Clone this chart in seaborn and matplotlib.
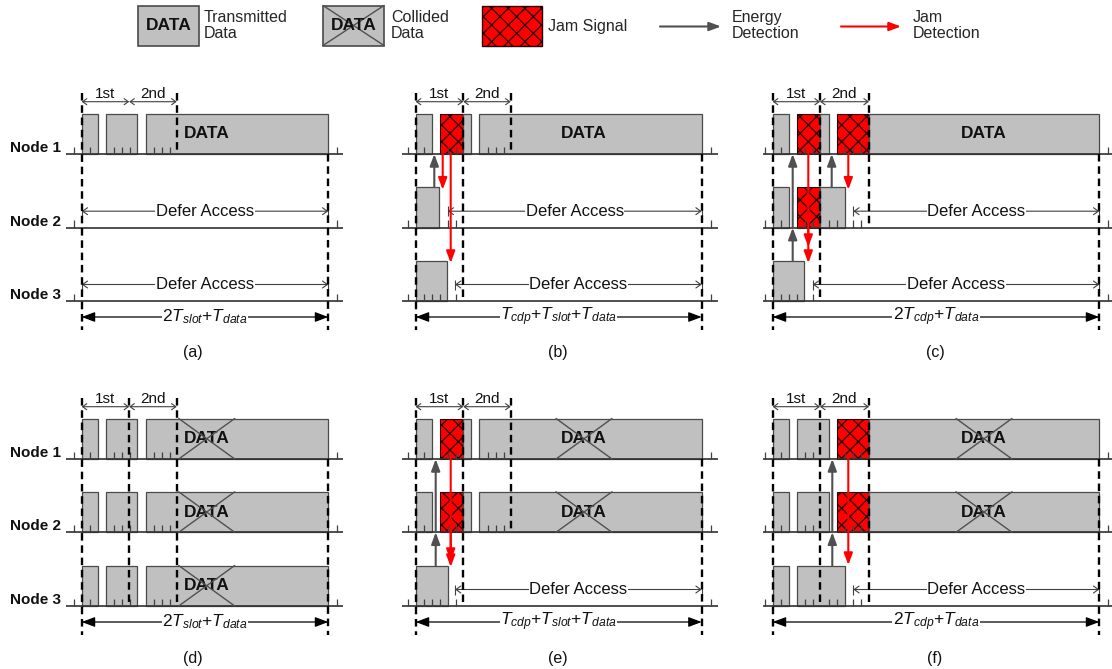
import matplotlib
matplotlib.use("Agg")
import matplotlib.pyplot as plt
import seaborn as sns
from matplotlib.patches import FancyArrowPatch

sns.set_theme(style="white")
plt.rcParams["font.family"] = ["Liberation Sans", "DejaVu Sans"]
plt.rcParams["mathtext.fontset"] = "custom"
plt.rcParams["mathtext.rm"] = "Liberation Sans"
plt.rcParams["mathtext.it"] = "Liberation Sans:italic"
plt.rcParams["mathtext.bf"] = "Liberation Sans:bold"
plt.rcParams["hatch.linewidth"] = 0.9

# ---------------- data ----------------
node_labels = ["Node 1", "Node 2", "Node 3"]
panel_ids = ["(a)", "(b)", "(c)", "(d)", "(e)", "(f)"]
panel_col = [0, 1, 2, 0, 1, 2]
panel_row = [0, 0, 0, 1, 1, 1]
slot_labels = ["1st", "2nd"]

col_x0 = [81.7, 415.7, 772.7]            # start of access period per column
col_span = [246.6, 286.0, 326.6]         # total period length
col_slot_ends = [[47.5, 95.0], [47.6, 95.0], [47.3, 96.3]]
col_data_label = [125.0, 168.3, 211.3]   # DATA label position in period
col_caption_x = [193, 558, 935]
col_line_left = [-16.0, -13.7, -9.7]
col_line_right = [14.7, 16.3, 12.7]
col_total_label = [r"2$T_{slot}$+$T_{data}$",
                   r"$T_{cdp}$+$T_{slot}$+$T_{data}$",
                   r"2$T_{cdp}$+$T_{data}$"]
row_base = [[154.0, 227.7, 301.0], [459.0, 532.3, 606.0]]

# transmissions: (start, end, kind) per node; kind: tx / jam / col
seg_a = [[(0, 16.6, "tx"), (24.3, 55.6, "tx"), (64, 246.6, "tx")], [], []]
seg_b = [[(0, 16, "tx"), (24, 47.6, "jam"), (47.6, 55.6, "tx"), (63.3, 286, "tx")],
         [(0, 23.6, "tx")],
         [(0, 31.6, "tx")]]
seg_c = [[(0, 16.6, "tx"), (24.6, 47.3, "jam"), (47.3, 56.3, "tx"), (64.6, 96.3, "jam"), (96.3, 326.6, "tx")],
         [(0, 16.6, "tx"), (24.6, 47.3, "jam"), (47.3, 72.3, "tx")],
         [(0, 31.6, "tx")]]
seg_d = [[(0, 16.6, "tx"), (24.3, 55.6, "tx"), (64, 246.6, "col")]] * 3
seg_e = [[(0, 16, "tx"), (24, 47.6, "jam"), (47.6, 55.6, "tx"), (63.3, 286, "col")]] * 2 + \
        [[(0, 32.6, "tx")]]
seg_f = [[(0, 16.6, "tx"), (24.6, 56.3, "tx"), (64.6, 96.3, "jam"), (96.3, 326.6, "col")]] * 2 + \
        [[(0, 16.6, "tx"), (24.6, 72.3, "tx")]]

ticks_a = [[-8, 8, 32, 40, 48, 72, 80, 88, 255], [-8, 255], [-8, 255]]
ticks_b = [[-8, 8, 32, 40, 72, 80, 88, 295], [-8, 32, 40, 295], [-8, 8, 16, 24, 40, 295]]
ticks_c = [[-8, 8, 32, 40, 72, 80, 88, 335], [-8, 8, 32, 40, 56, 64, 80, 88, 335],
           [-8, 8, 16, 24, 40, 335]]
ticks_d = [[-8, 8, 32, 40, 48, 72, 80, 88, 255]] * 3
ticks_e = [[-8, 8, 32, 40, 72, 80, 88, 295]] * 2 + [[-8, 8, 16, 24, 40, 295]]
ticks_f = [[-8, 8, 32, 40, 72, 80, 88, 335]] * 2 + [[-8, 8, 32, 40, 56, 64, 80, 88, 335]]

# defer access start per node (None = no defer)
defer_a = [None, 0, 0]
defer_b = [None, 32.0, 39.3]
defer_c = [None, 80.6, 40.0]
defer_d = [None, None, None]
defer_e = [None, None, 39.3]
defer_f = [None, None, 80.6]

# dashed guide lines: (time, from, to) with keys top / n0..n2 / bot
dash_a = [(0, "top", "bot"), (95.0, "top", "n0"), (246.6, "n0", "bot")]
dash_b = [(0, "top", "bot"), (47.6, "top", "n2"), (95.0, "top", "n0"), (286.0, "n0", "bot")]
dash_c = [(0, "top", "bot"), (47.3, "top", "n2"), (96.3, "top", "n1"), (326.6, "n0", "bot")]
dash_d = [(0, "top", "bot"), (47.5, "top", "n2"), (95.0, "top", "n2"), (246.6, "n0", "bot")]
dash_e = [(0, "top", "bot"), (47.6, "top", "n2"), (95.0, "top", "n1"), (286.0, "n0", "bot")]
dash_f = [(0, "top", "bot"), (47.3, "top", "n2"), (96.3, "top", "n2"), (326.6, "n0", "bot")]

# energy detection: (time, from node, from level, to node baseline)
energy_a = []
energy_b = [(18.6, 1, "top", 0)]
energy_c = [(20.0, 2, "top", 1), (20.0, 1, "base", 0), (59.0, 1, "top", 0)]
energy_d = []
energy_e = [(20.0, 2, "top", 1), (20.0, 1, "base", 0)]
energy_f = [(59.6, 2, "top", 1), (59.6, 1, "base", 0)]

# jam detection: (time, from node baseline, to node, height above that baseline)
jamdet_a = []
jamdet_b = [(27.0, 0, 1, 38), (35.0, 0, 2, 38)]
jamdet_c = [(35.6, 0, 2, 54), (35.6, 1, 2, 38), (75.6, 0, 1, 38)]
jamdet_d = []
jamdet_e = [(35.0, 0, 2, 45), (35.0, 1, 2, 39)]
jamdet_f = [(75.6, 0, 2, 41)]

# legend
legend_labels = ["Transmitted\nData", "Collided\nData", "Jam Signal",
                 "Energy\nDetection", "Jam\nDetection"]

segments = [seg_a, seg_b, seg_c, seg_d, seg_e, seg_f]
ticks = [ticks_a, ticks_b, ticks_c, ticks_d, ticks_e, ticks_f]
defers = [defer_a, defer_b, defer_c, defer_d, defer_e, defer_f]
dashes = [dash_a, dash_b, dash_c, dash_d, dash_e, dash_f]
energies = [energy_a, energy_b, energy_c, energy_d, energy_e, energy_f]
jamdets = [jamdet_a, jamdet_b, jamdet_c, jamdet_d, jamdet_e, jamdet_f]

# ---------------- styling ----------------
GRAY = "#c0c0c0"
EDGE = "#4a4a4a"
LINE = "#303030"
ARROW_GRAY = "#505050"
RED = "#ff0000"
H = 40.5

fig = plt.figure(figsize=(11.12, 6.69), dpi=100)
ax = fig.add_axes([0, 0, 1, 1])
ax.set_xlim(0, 1112)
ax.set_ylim(669, 0)
ax.axis("off")


def arrow(p0, p1, style, color, lw, z=6):
    ax.add_patch(FancyArrowPatch(p0, p1, arrowstyle=style, color=color, lw=lw,
                                 mutation_scale=1, shrinkA=0, shrinkB=0, zorder=z))


def block(x, w, base, kind, label=None, label_x=None):
    if kind == "jam":
        ax.bar(x, -H, width=w, bottom=base, align="edge", color=RED,
               edgecolor="#200000", hatch="xx", lw=0.8, zorder=3)
    else:
        ax.bar(x, -H, width=w, bottom=base, align="edge", color=GRAY,
               edgecolor=EDGE, lw=0.9, zorder=3)
    if label is not None:
        ax.text(label_x, base - H / 2, label, ha="center", va="center",
                fontsize=12.5, fontweight="bold", color="#111111", zorder=7)
        if kind == "col":
            ax.plot([label_x - 28, label_x + 28], [base - H, base], color="#505050", lw=1, zorder=8)
            ax.plot([label_x - 28, label_x + 28], [base, base - H], color="#505050", lw=1, zorder=8)


for p, pid in enumerate(panel_ids):
    c, r = panel_col[p], panel_row[p]
    x0, span = col_x0[c], col_span[c]
    bases = row_base[r]
    mark_y = bases[0] - 52.3
    total_y = bases[2] + 16
    ykey = {"top": mark_y - 8.5, "bot": total_y + 13,
            "n0": bases[0], "n1": bases[1], "n2": bases[2]}

    for n in range(3):
        b = bases[n]
        ax.plot([x0 + col_line_left[c], x0 + span + col_line_right[c]], [b, b],
                color=LINE, lw=1.2, zorder=4, solid_capstyle="butt")
        if c == 0:
            ax.text(61, b - 6, node_labels[n], ha="right", va="center",
                    fontsize=11, fontweight="bold", color="#111111")
        for (s, e, kind) in segments[p][n]:
            is_data = (e == span)
            block(x0 + s, e - s, b, kind,
                  label="DATA" if is_data else None,
                  label_x=x0 + col_data_label[c])
        ax.vlines([x0 + t for t in ticks[p][n]], b - 7.5, b, color="#404040", lw=0.9, zorder=4)
        d = defers[p][n]
        if d is not None:
            yy = b - 16.5
            arrow((x0 + d, yy), (x0 + span, yy), "<->,head_length=3.5,head_width=2.5",
                  "#404040", 0.8, z=5)
            ax.vlines([x0 + d, x0 + span], yy - 5, yy + 5, color="#404040", lw=0.8, zorder=5)
            ax.text(x0 + (d + span) / 2, yy, "Defer Access", ha="center", va="center",
                    fontsize=12, color="#111111", zorder=7,
                    bbox=dict(fc="white", ec="none", pad=0.5))

    # dashed guides
    for (t, a, bk) in dashes[p]:
        ax.plot([x0 + t, x0 + t], [ykey[a], ykey[bk]], color="black", lw=1.7,
                ls=(0, (3.2, 2.0)), zorder=6)

    # slot markers
    s1, s2 = col_slot_ends[c]
    for (xa, xb), lab in zip([(0, s1), (s1, s2)], slot_labels):
        arrow((x0 + xa, mark_y), (x0 + xb, mark_y), "<->,head_length=3,head_width=2.2",
              "#404040", 0.8)
        ax.text(x0 + (xa + xb) / 2, mark_y - 0.5, lab, ha="center", va="bottom",
                fontsize=11, color="#111111")

    # total duration
    arrow((x0, total_y), (x0 + span, total_y), "<|-|>,head_length=8,head_width=3",
          "black", 0.9)
    ax.text(x0 + span / 2, total_y, col_total_label[c], ha="center", va="center",
            fontsize=12.5, color="#111111", zorder=7,
            bbox=dict(fc="white", ec="none", pad=0.3))

    # energy detection arrows
    for (t, fn, lvl, tn) in energies[p]:
        y0 = bases[fn] - H if lvl == "top" else bases[fn]
        arrow((x0 + t, y0), (x0 + t, bases[tn]), "-|>,head_length=7,head_width=2.6",
              ARROW_GRAY, 1.5, z=8)
    # jam detection arrows
    for (t, fn, tn, dy) in jamdets[p]:
        arrow((x0 + t, bases[fn]), (x0 + t, bases[tn] - dy), "-|>,head_length=7,head_width=2.6",
              RED, 1.5, z=8)

    ax.text(col_caption_x[c], bases[2] + 52, pid, ha="center", va="center",
            fontsize=11.5, color="#111111")

# ---------------- legend ----------------
ly = 25.5
ax.bar(138, -40, width=61, bottom=ly + 20, align="edge", color=GRAY, edgecolor=EDGE, lw=1.2)
ax.text(168.5, ly, "DATA", ha="center", va="center", fontsize=12.5, fontweight="bold", color="#111111")
ax.text(204, ly, legend_labels[0], ha="left", va="center", fontsize=11.5, linespacing=1.1)

ax.bar(323, -40, width=61, bottom=ly + 20, align="edge", color=GRAY, edgecolor=EDGE, lw=1.2)
ax.text(353.5, ly, "DATA", ha="center", va="center", fontsize=12.5, fontweight="bold", color="#111111")
ax.plot([323, 384], [ly - 20, ly + 20], color="#505050", lw=1)
ax.plot([323, 384], [ly + 20, ly - 20], color="#505050", lw=1)
ax.text(391, ly, legend_labels[1], ha="left", va="center", fontsize=11.5, linespacing=1.1)

ax.bar(482, -40, width=60, bottom=ly + 20, align="edge", color=RED, edgecolor="#200000",
       hatch="xx", lw=1.0)
ax.text(548, ly + 1, legend_labels[2], ha="left", va="center", fontsize=11.5)

arrow((660, ly + 1), (721, ly + 1), "-|>,head_length=7,head_width=2.6", ARROW_GRAY, 1.5)
ax.text(732, ly, legend_labels[3], ha="left", va="center", fontsize=11.5, linespacing=1.1)
arrow((841, ly + 1), (901, ly + 1), "-|>,head_length=7,head_width=2.6", RED, 1.5)
ax.text(913, ly, legend_labels[4], ha="left", va="center", fontsize=11.5, linespacing=1.1)

fig.savefig("out.png", dpi=100, facecolor="white")
